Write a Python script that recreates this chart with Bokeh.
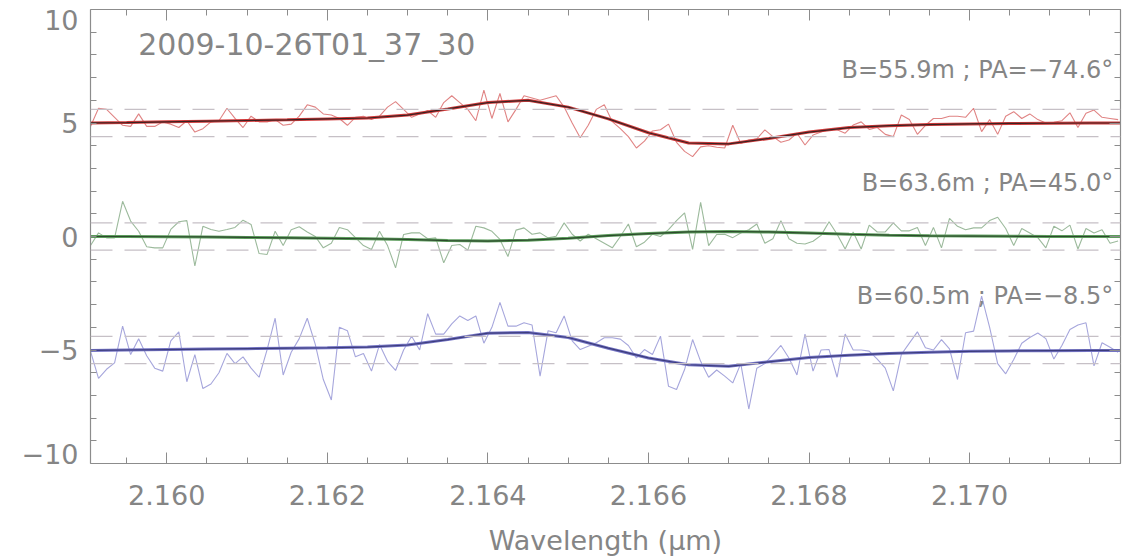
import numpy as np
from bokeh.plotting import figure
from bokeh.models import (LinearAxis, FixedTicker, Label, Span, NumeralTickFormatter,
                          CustomJSTickFormatter)
from bokeh.embed import file_html
from bokeh.resources import INLINE

# ---------------- data ----------------
wl_start = 2.15905
wl_step = 0.0001

red_phase = [4.85, 5.65, 5.60, 5.25, 4.90, 4.85, 5.40, 4.85, 4.85, 5.05,
             4.95, 4.80, 5.10, 4.60, 4.75, 5.05, 5.10, 5.65, 5.20, 4.80,
             5.30, 5.05, 5.05, 5.15, 4.90, 4.95, 5.30, 5.80, 5.70, 5.40,
             5.35, 5.20, 4.90, 5.25, 5.30, 5.15, 5.30, 5.70, 5.94, 5.60,
             5.25, 5.40, 5.55, 5.25, 5.90, 6.20, 5.90, 5.60, 5.10, 6.45,
             5.20, 6.30, 5.05, 5.60, 6.20, 6.10, 6.00, 6.10, 6.20, 5.70,
             5.00, 4.35, 4.90, 5.60, 5.80, 5.06, 4.75, 4.40, 3.90, 4.20,
             4.65, 4.70, 4.95, 4.15, 3.75, 3.52, 3.95, 4.00, 3.93, 3.90,
             4.90, 4.10, 4.25, 4.30, 4.70, 4.40, 4.15, 4.25, 4.55, 4.03,
             4.47, 4.60, 4.70, 4.70, 4.55, 4.91, 5.05, 4.72, 4.80, 4.50,
             4.40, 5.35, 5.15, 4.50, 4.90, 5.20, 5.20, 5.30, 5.30, 5.25,
             5.65, 4.62, 5.15, 4.50, 5.30, 5.50, 5.20, 5.40, 5.15, 5.00,
             5.03, 5.10, 5.45, 4.80, 5.43, 5.57, 5.25, 5.20, 5.15]

green_phase = [-0.40, 0.16, -0.06, -0.06, 1.55, 0.68, 0.23, -0.45, -0.50, -0.50,
               0.31, 0.65, 0.70, -1.30, 0.45, 0.31, 0.23, 0.31, 0.40, 0.72,
               0.53, -0.75, -0.79, 0.23, -0.40, 0.30, 0.43, 0.20, 0.00, -0.50,
               -0.30, 0.40, 0.30, -0.05, -0.40, -0.57, 0.23, -0.40, -1.38, 0.09,
               0.16, 0.16, -0.10, -0.06, -1.16, -0.40, -0.35, -0.60, 0.45, 0.38,
               0.23, -0.13, -0.88, 0.28, 0.38, 0.10, 0.16, -0.06, 0.01, 0.60,
               0.10, -0.20, 0.10, -0.10, -0.30, -0.50, 0.00, 0.55, -0.45, -0.25,
               0.10, 0.00, 0.30, 0.70, 1.04, -0.57, 1.50, -0.40, 0.09, 0.10,
               -0.05, 0.15, 0.30, 0.55, -0.30, -0.10, 0.70, -0.10, -0.30, -0.33,
               -0.21, 0.05, 0.65, 0.10, -0.55, 0.20, -0.55, 0.50, 0.20, 0.20,
               0.60, 0.25, 0.25, 0.40, -0.40, 0.40, -0.50, 0.80, 0.45, 0.30,
               0.38, 0.38, 0.70, 0.85, 0.35, -0.40, 0.35, 0.15, -0.05, -0.50,
               0.45, 0.25, 0.50, -0.55, 0.35, 0.15, 0.30, -0.30, -0.20]

blue_phase = [-5.05, -6.25, -5.85, -5.57, -3.95, -5.20, -4.50, -5.25, -5.80, -5.93,
              -4.60, -4.20, -6.40, -5.20, -6.70, -6.50, -6.00, -5.15, -5.60, -5.30,
              -5.80, -6.20, -4.98, -3.60, -6.10, -5.10, -4.50, -3.60, -4.75, -6.30,
              -7.20, -4.00, -4.15, -5.30, -5.15, -5.93, -4.76, -5.50, -5.90, -5.00,
              -4.39, -5.00, -3.40, -4.30, -4.30, -3.85, -3.50, -3.70, -3.50, -4.70,
              -4.00, -2.90, -3.95, -3.95, -3.80, -3.90, -6.15, -4.15, -4.24, -3.50,
              -4.60, -4.98, -4.83, -4.68, -4.46, -4.46, -4.52, -4.80, -5.35, -4.98,
              -5.20, -4.39, -6.60, -6.74, -5.86, -4.54, -5.50, -6.20, -5.88, -6.15,
              -6.45, -5.60, -7.60, -5.80, -5.60, -5.20, -4.80, -5.35, -6.10, -4.30,
              -5.93, -5.00, -4.98, -6.20, -4.30, -5.00, -5.00, -5.05, -5.40, -5.80,
              -6.80, -5.20, -4.70, -4.20, -4.90, -5.00, -4.54, -4.95, -6.30, -4.24,
              -4.17, -2.63, -4.00, -5.60, -6.05, -5.42, -4.70, -4.45, -4.25, -4.50,
              -5.40, -4.80, -4.10, -3.90, -3.80, -5.70, -4.68, -4.88, -5.10]

fit_wavelength = [2.1590, 2.1595, 2.1600, 2.1605, 2.1610, 2.1615, 2.1620, 2.1625, 2.1630,
                  2.1635, 2.1640, 2.1645, 2.1650, 2.1655, 2.1660, 2.1665, 2.1670, 2.1675,
                  2.1680, 2.1685, 2.1690, 2.1695, 2.1700, 2.1705, 2.1710, 2.1715, 2.1720]
red_fit = [5.00, 5.02, 5.05, 5.08, 5.11, 5.14, 5.18, 5.22, 5.35,
           5.62, 5.90, 6.00, 5.70, 5.18, 4.57, 4.12, 4.08, 4.32,
           4.60, 4.80, 4.88, 4.93, 4.96, 4.98, 4.99, 5.00, 5.00]
green_fit = [0.00, 0.00, -0.01, -0.02, -0.04, -0.06, -0.08, -0.10, -0.13,
             -0.18, -0.20, -0.16, -0.08, 0.04, 0.13, 0.20, 0.22, 0.20,
             0.15, 0.10, 0.06, 0.03, 0.02, 0.01, 0.00, 0.00, 0.00]
blue_fit = [-5.02, -5.00, -4.98, -4.96, -4.94, -4.92, -4.90, -4.87, -4.78,
            -4.54, -4.26, -4.23, -4.45, -4.92, -5.35, -5.65, -5.72, -5.52,
            -5.33, -5.23, -5.15, -5.10, -5.06, -5.04, -5.03, -5.02, -5.02]

offsets = [5, 0, -5]
band_halfwidth = 0.6
baseline_labels = ["B=55.9m ; PA=\u221274.6\u00b0", "B=63.6m ; PA=45.0\u00b0", "B=60.5m ; PA=\u22128.5\u00b0"]
date_label = "2009-10-26T01_37_30"

x_major = [2.160, 2.162, 2.164, 2.166, 2.168, 2.170]
x_minor = [2.1590, 2.1595, 2.1600, 2.1605, 2.1610, 2.1615, 2.1620, 2.1625, 2.1630, 2.1635,
           2.1640, 2.1645, 2.1650, 2.1655, 2.1660, 2.1665, 2.1670, 2.1675, 2.1680, 2.1685,
           2.1690, 2.1695, 2.1700, 2.1705, 2.1710, 2.1715]
y_major = [-10, -5, 0, 5, 10]
y_major_labels = ["\u221210", "\u22125", "0", "5", "10"]
y_minor = list(range(-10, 11))

wavelength = wl_start + wl_step * np.arange(len(red_phase))

# ---------------- figure ----------------
FONT = "DejaVu Sans"
AX = "#8c8c8c"
TXT = "#858585"
Y0, Y1 = -10, 10
FRAME_H = 559 - 9 - 96

p = figure(width=1126, height=559, x_range=(2.15905, 2.17188), y_range=(Y0, Y1),
           output_backend="svg", toolbar_location=None,
           x_axis_location=None, y_axis_location=None,
           min_border_left=90, min_border_right=6, min_border_top=9, min_border_bottom=96)
p.grid.visible = False
p.outline_line_color = None
p.background_fill_color = "white"
p.border_fill_color = "white"

def style(ax, show, size="27px"):
    ax.axis_line_color = AX
    ax.axis_line_width = 1.2
    ax.major_tick_line_color = AX
    ax.minor_tick_line_color = AX
    ax.major_tick_in = 11
    ax.major_tick_out = 0
    ax.minor_tick_in = 6
    ax.minor_tick_out = 0
    ax.major_label_text_color = TXT
    ax.major_label_text_font = FONT
    ax.major_label_text_font_size = size
    if not show:
        ax.formatter = CustomJSTickFormatter(code="return ''")
        ax.major_label_standoff = 0

xt = FixedTicker(ticks=x_major, minor_ticks=x_minor)
yt = FixedTicker(ticks=y_major, minor_ticks=y_minor)

bottom = LinearAxis(ticker=xt, formatter=NumeralTickFormatter(format="0.000"),
                    axis_label="Wavelength (\u03bcm)")
style(bottom, True, "27px")
bottom.major_label_standoff = 21
bottom.axis_label_standoff = 17
bottom.axis_label_text_font = FONT
bottom.axis_label_text_font_style = "normal"
bottom.axis_label_text_font_size = "27px"
bottom.axis_label_text_color = TXT
p.add_layout(bottom, "below")

# left labels: the end labels sit just inside the frame edges (as in the reference)
px_per_unit = FRAME_H / (Y1 - Y0)
nudge = 10.0 / px_per_unit
left_pos = [Y0 + nudge if v <= Y0 else (Y1 - nudge if v >= Y1 else v) for v in y_major]
left = LinearAxis(ticker=FixedTicker(ticks=left_pos, minor_ticks=y_minor),
                  formatter=CustomJSTickFormatter(args=dict(pos=left_pos, lab=y_major_labels), code="""
let b = 0;
for (let i = 0; i < pos.length; i++) { if (Math.abs(pos[i] - tick) < Math.abs(pos[b] - tick)) b = i; }
return lab[b];
"""))
style(left, True, "27px")
left.major_tick_line_color = None
left.major_label_standoff = 12
p.add_layout(left, "left")

top = LinearAxis(ticker=xt)
style(top, False)
p.add_layout(top, "above")
right = LinearAxis(ticker=yt)
style(right, False)
p.add_layout(right, "right")

# dashed reference bands
for off in offsets:
    for s in (-1, 1):
        p.add_layout(Span(location=off + s * band_halfwidth, dimension="width",
                          line_color="#c6c0c6", line_width=1.2, line_dash="22 12"))

series = [
    (red_phase, red_fit, "#e08484", "#d23c3c", "#3a2222"),
    (green_phase, green_fit, "#9cba9c", "#5c9c5c", "#2c4a2c"),
    (blue_phase, blue_fit, "#a6a6dc", "#7474c4", "#3c3c7c"),
]
for data, fit, c_noisy, c_fit, c_dark in series:
    p.line(wavelength, data, line_color=c_noisy, line_width=1.1)
    p.line(fit_wavelength, fit, line_color=c_fit, line_width=3)
    p.line(fit_wavelength, fit, line_color=c_dark, line_width=1.2)

p.add_layout(Label(x=2.159645, y=8.46, text=date_label, text_font=FONT,
                   text_font_size="30px", text_color=TXT, text_baseline="middle",
                   text_align="left"))
label_y = [7.32, 2.35, -2.62]
for ly, txt in zip(label_y, baseline_labels):
    p.add_layout(Label(x=2.17179, y=ly, text=txt, text_font=FONT, text_font_size="24px",
                       text_color=TXT, text_baseline="middle", text_align="right"))

open("out.html", "w").write(file_html(p, INLINE))
